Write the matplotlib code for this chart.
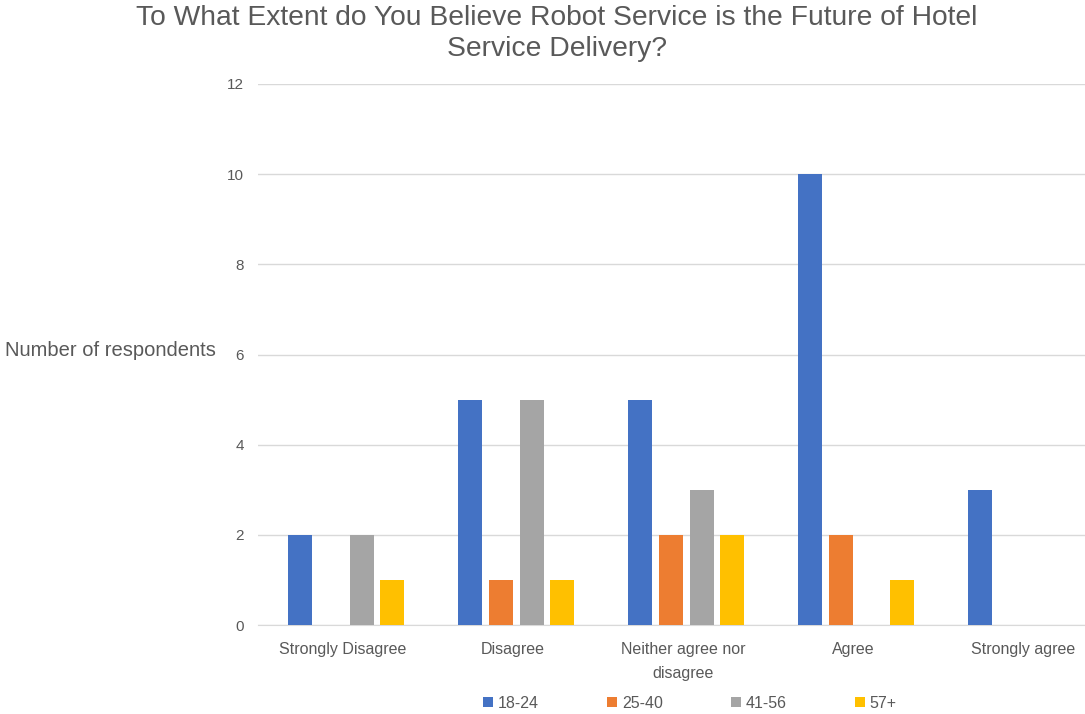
import matplotlib
matplotlib.use('Agg')
import matplotlib.pyplot as plt
import numpy as np

categories = ['Strongly Disagree', 'Disagree', 'Neither agree nor\ndisagree', 'Agree', 'Strongly agree']
age_groups = ['18-24', '25-40', '41-56', '57+']
age_18_24 = [2, 5, 5, 10, 3]
age_25_40 = [0, 1, 2, 2, 0]
age_41_56 = [2, 5, 3, 0, 0]
age_57_plus = [1, 1, 2, 1, 0]
colors = ['#4472C4', '#ED7D31', '#A5A5A5', '#FFC000']

plt.rcParams['font.family'] = ['Liberation Sans', 'DejaVu Sans']
text_color = '#595959'

fig = plt.figure(figsize=(10.85, 7.14), dpi=100)
# plot area runs a little past the right edge, as in the original
ax = fig.add_axes([0.2378, 0.1246, 0.7834, 0.7578])

x = np.arange(len(categories))
slot = 0.182
width = 0.141
series = [age_18_24, age_25_40, age_41_56, age_57_plus]
for i, (vals, name) in enumerate(zip(series, age_groups)):
    ax.bar(x + (i - 1.5) * slot + 0.018, vals, width, color=colors[i], label=name, zorder=3)

ax.set_xlim(-0.5, 4.5)
ax.set_ylim(0, 12)
ax.set_yticks(range(0, 13, 2))
ax.yaxis.grid(True, color='#D9D9D9', linewidth=1, zorder=0)
ax.set_xticks(x)
ax.set_xticklabels(categories, fontsize=11.5, color=text_color, linespacing=1.75)
ax.tick_params(axis='y', labelsize=11, labelcolor=text_color, length=0, pad=10)
ax.tick_params(axis='x', length=0, pad=12)
for s in ['top', 'right', 'left']:
    ax.spines[s].set_visible(False)
ax.spines['bottom'].set_color('#D9D9D9')

fig.text(0.005, 0.509, 'Number of respondents', fontsize=14.5, color=text_color, va='center', ha='left')
fig.text(0.513, 0.953, 'To What Extent do You Believe Robot Service is the Future of Hotel\nService Delivery?',
         fontsize=20.3, color=text_color, ha='center', va='center', linespacing=1.25)

fig.legend(loc='center', bbox_to_anchor=(0.636, 0.0154), ncol=4, frameon=False, fontsize=11.5,
           handlelength=0.6, handleheight=0.6, handletextpad=0.3, columnspacing=4.3, labelcolor=text_color)

fig.savefig('out.png', dpi=100)
